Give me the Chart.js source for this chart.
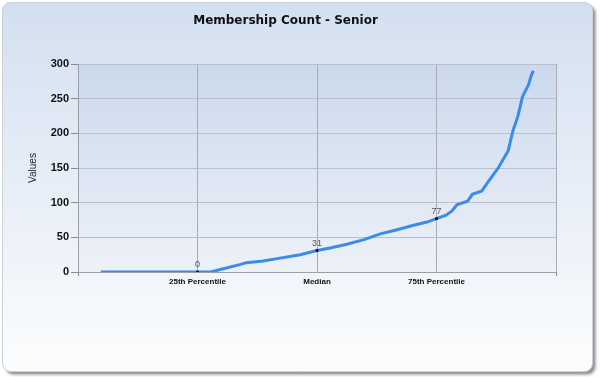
<!DOCTYPE html>
<html>
<head>
<meta charset="utf-8">
<script src="https://cdn.jsdelivr.net/npm/chart.js@4/dist/chart.umd.min.js"></script>
<style>
html,body{margin:0;padding:0;background:#fff;}
#wrap{position:absolute;left:0;top:0;width:600px;height:377px;}
</style>
</head>
<body>
<div id="wrap"><canvas id="c" width="600" height="377"></canvas></div>
<script>
const chartTitle = 'Membership Count - Senior';
const yAxisTitle = 'Values';
const tickLabels = ['', '25th Percentile', 'Median', '75th Percentile', ''];
const curveX = [0.19, 1.0, 1.11, 1.2, 1.36, 1.41, 1.55, 1.69, 1.86, 2.0, 2.12, 2.25, 2.4, 2.53, 2.67, 2.8, 2.92, 3.0, 3.08, 3.13, 3.17, 3.26, 3.3, 3.38, 3.42, 3.47, 3.52, 3.56, 3.6, 3.64, 3.68, 3.72, 3.77, 3.79, 3.81];
const curveY = [0, 0, 0, 4, 11, 13.5, 16, 20, 25, 31, 35, 40, 47, 55, 61, 67, 72, 77, 82, 88, 97, 102, 112, 117, 127, 139, 151, 163, 175, 204, 224, 253, 270, 282, 290];
const markerX = [1, 2, 3];
const markerY = [0, 31, 77];

const curveData = curveX.map((x, i) => ({x: x, y: curveY[i]}));
const markerData = markerX.map((x, i) => ({x: x, y: markerY[i]}));

function roundRect(ctx, x, y, w, h, r) {
  ctx.beginPath();
  ctx.moveTo(x + r, y);
  ctx.lineTo(x + w - r, y);
  ctx.quadraticCurveTo(x + w, y, x + w, y + r);
  ctx.lineTo(x + w, y + h - r);
  ctx.quadraticCurveTo(x + w, y + h, x + w - r, y + h);
  ctx.lineTo(x + r, y + h);
  ctx.quadraticCurveTo(x, y + h, x, y + h - r);
  ctx.lineTo(x, y + r);
  ctx.quadraticCurveTo(x, y, x + r, y);
  ctx.closePath();
}

const backgroundPlugin = {
  id: 'bg',
  beforeDraw(chart) {
    const ctx = chart.ctx;
    const a = chart.chartArea;
    ctx.save();
    ctx.fillStyle = '#ffffff';
    ctx.fillRect(0, 0, chart.width, chart.height);
    ctx.save();
    ctx.shadowColor = 'rgba(0,0,0,0.45)';
    ctx.shadowBlur = 3;
    ctx.shadowOffsetX = 3;
    ctx.shadowOffsetY = 3;
    roundRect(ctx, 2.5, 2.5, 590, 369, 9);
    const g = ctx.createLinearGradient(0, 2, 0, 372);
    g.addColorStop(0, '#d3dff0');
    g.addColorStop(1, '#fcfdfe');
    ctx.fillStyle = g;
    ctx.fill();
    ctx.restore();
    roundRect(ctx, 2.5, 2.5, 590, 369, 9);
    ctx.strokeStyle = '#cdd2d8';
    ctx.lineWidth = 1;
    ctx.stroke();
    const pg = ctx.createLinearGradient(0, a.top, 0, a.bottom);
    pg.addColorStop(0, '#cbd9ed');
    pg.addColorStop(1, '#edf1f8');
    ctx.fillStyle = pg;
    ctx.fillRect(a.left, a.top, a.right - a.left, a.bottom - a.top);
    ctx.restore();
  },
  afterDraw(chart) {
    const ctx = chart.ctx;
    ctx.save();
    ctx.fillStyle = '#111111';
    ctx.font = 'bold 12px "DejaVu Sans"';
    ctx.textAlign = 'center';
    ctx.textBaseline = 'middle';
    ctx.fillText(chartTitle, 285.5, 21);
    ctx.restore();
  },
  afterDatasetsDraw(chart) {
    const ctx = chart.ctx;
    const xs = chart.scales.x, ys = chart.scales.y;
    ctx.save();
    ctx.fillStyle = '#555555';
    ctx.font = '9px "Liberation Sans"';
    ctx.textAlign = 'center';
    ctx.textBaseline = 'middle';
    markerX.forEach((x, i) => {
      ctx.fillText(String(markerY[i]), xs.getPixelForValue(x), ys.getPixelForValue(markerY[i]) - 7);
    });
    ctx.restore();
  }
};

new Chart(document.getElementById('c'), {
  type: 'scatter',
  data: {
    datasets: [
      {
        data: markerData,
        showLine: false,
        pointStyle: 'rect',
        pointRadius: 1.8,
        backgroundColor: '#000000',
        borderColor: '#000000',
        borderWidth: 0,
        order: 0
      },
      {
        data: curveData,
        showLine: true,
        borderColor: '#3c8be6',
        borderWidth: 3,
        pointRadius: 0,
        tension: 0,
        fill: false,
        order: 1
      }
    ]
  },
  options: {
    responsive: false,
    animation: false,
    events: [],
    layout: {padding: {left: 0, top: 64, right: 44, bottom: 0}},
    plugins: {legend: {display: false}, title: {display: false}, tooltip: {enabled: false}},
    scales: {
      x: {
        type: 'linear',
        min: 0, max: 4,
        afterFit(s) { s.height = 105; },
        ticks: {
          stepSize: 1,
          autoSkip: false,
          maxRotation: 0,
          padding: 1,
          color: '#111111',
          font: {family: '"Liberation Sans"', size: 8, weight: 'bold'},
          callback: (v) => tickLabels[v] !== undefined ? tickLabels[v] : ''
        },
        grid: {
          color: (c) => (c.index === 0 ? 'rgba(0,0,0,0)' : '#a9adb3'),
          tickColor: (c) => (c.index === 0 || c.index === 4 ? '#8a8a8a' : 'rgba(0,0,0,0)'),
          tickLength: 4,
          lineWidth: 1
        },
        border: {display: true, color: '#9aa0a8', width: 1}
      },
      y: {
        min: 0, max: 300,
        afterFit(s) { s.width = 78; },
        ticks: {
          stepSize: 50,
          padding: 2,
          color: '#111111',
          font: {family: '"Liberation Sans"', size: 11, weight: 'bold'}
        },
        grid: {
          color: '#b9c0ca',
          tickColor: '#8a8a8a',
          tickLength: 7,
          lineWidth: 1
        },
        border: {display: true, color: '#9aa0a8', width: 1},
        title: {
          display: true,
          text: yAxisTitle,
          color: '#222222',
          font: {family: '"Liberation Sans Narrow", "Liberation Sans"', size: 10},
          padding: {top: 27, bottom: 0}
        }
      }
    }
  },
  plugins: [backgroundPlugin]
});
</script>
</body>
</html>
